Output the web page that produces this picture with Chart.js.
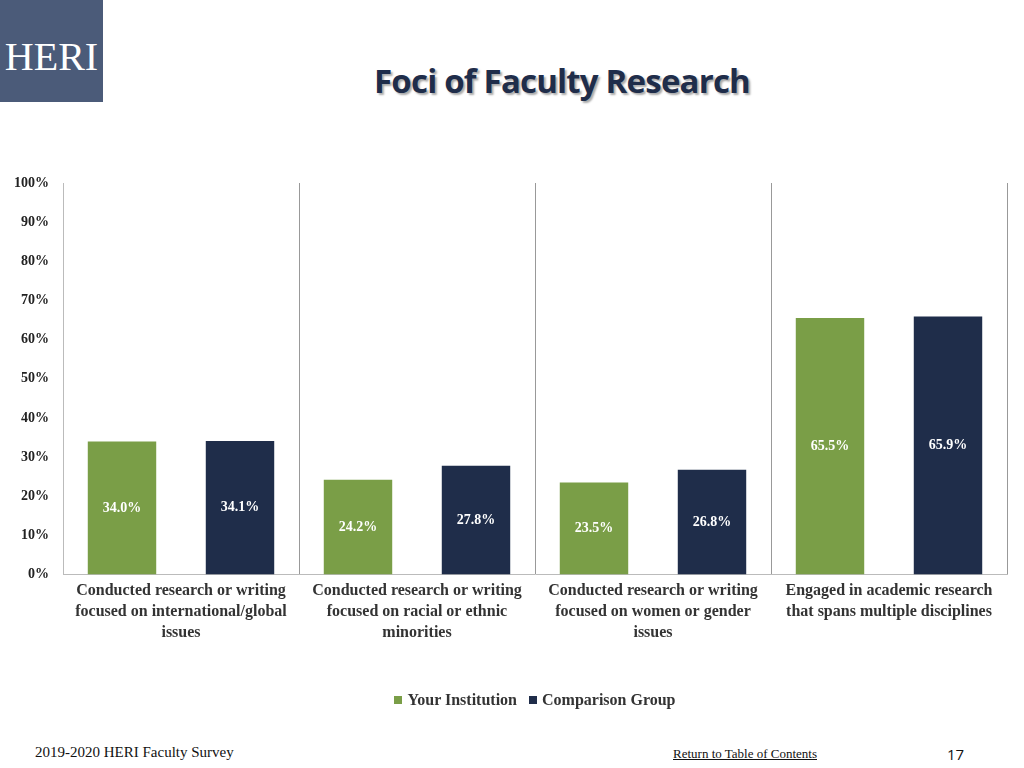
<!DOCTYPE html>
<html><head><meta charset="utf-8">
<script src="https://cdn.jsdelivr.net/npm/chart.js@4"></script>
<style>
body{margin:0;width:1024px;height:768px;position:relative;background:#fff;overflow:hidden}
#logo{position:absolute;left:0;top:0;width:103px;height:102px;background:#4B5B79;color:#fff;font-family:"Liberation Serif",serif;font-size:40px;line-height:114px;text-align:center}
#title{position:absolute;left:0;width:1124px;top:58px;text-align:center;font-family:"Open Sans",sans-serif;font-weight:bold;font-size:33px;color:#1F2D4A;text-shadow:2px 2px 2px #aaa;letter-spacing:-0.8px}
.foot{position:absolute;top:744px;font-family:"Liberation Serif",serif;color:#111}
#c{position:absolute;left:0;top:150px}
#leg{position:absolute;top:691px;left:0;width:1070px;text-align:center;font-family:"Liberation Serif",serif;font-weight:bold;font-size:16px;color:#333}
#leg i{display:inline-block;width:8px;height:8px;margin:0 5px 1px 0}
</style></head><body>
<div id="logo">HERI</div>
<div id="title">Foci of Faculty Research</div>
<canvas id="c" width="1024" height="575"></canvas>
<div id="leg"></div>
<div class="foot" style="left:35px;font-size:15px">2019-2020 HERI Faculty Survey</div>
<div class="foot" style="left:673px;top:746px;font-size:13px;text-decoration:underline">Return to Table of Contents</div>
<div class="foot" style="left:947px;font-size:15px;font-family:'Open Sans',sans-serif">17</div>
<script>
const categories=[["Conducted research or writing","focused on international/global","issues"],["Conducted research or writing","focused on racial or ethnic","minorities"],["Conducted research or writing","focused on women or gender","issues"],["Engaged in academic research","that spans multiple disciplines"]];
const yourInstitution=[34.0,24.2,23.5,65.5];
const comparisonGroup=[34.1,27.8,26.8,65.9];
const seriesNames=["Your Institution","Comparison Group"];
const colors=['#7A9E47','#1F2D4A'];
const F="'Liberation Serif',serif";
document.getElementById('leg').innerHTML=seriesNames.map((n,i)=>'<i style="background:'+colors[i]+'"></i>'+n).join('&nbsp;&nbsp;&nbsp;');
const labelPlugin={id:'lbl',afterDatasetsDraw(ch){const x=ch.ctx;x.save();x.font="bold 14px "+F;x.fillStyle="#fff";x.textAlign="center";x.textBaseline="middle";
ch.data.datasets.forEach((d,i)=>{ch.getDatasetMeta(i).data.forEach((b,j)=>{x.fillText(d.data[j].toFixed(1)+"%",b.x,(b.y+b.base)/2);});});x.restore();}};
new Chart(document.getElementById('c'),{type:'bar',
data:{labels:categories,datasets:[
{label:seriesNames[0],data:yourInstitution,backgroundColor:colors[0],barPercentage:0.58,categoryPercentage:1},
{label:seriesNames[1],data:comparisonGroup,backgroundColor:colors[1],barPercentage:0.58,categoryPercentage:1}]},
options:{responsive:false,animation:false,layout:{padding:{left:0,right:17,top:33,bottom:76}},
plugins:{tooltip:{enabled:false},legend:{display:false}},
scales:{y:{min:0,max:100,ticks:{stepSize:10,callback:v=>v+'%',font:{family:F,weight:'bold',size:14},color:'#222',padding:14},grid:{display:false,drawTicks:false},border:{display:true,color:'#bbb'}},
x:{ticks:{font:{family:F,weight:'bold',size:16,lineHeight:1.3},color:'#333',padding:6,maxRotation:0,autoSkip:false},grid:{display:true,offset:true,color:'#999',drawTicks:false},border:{display:true,color:'#bbb'}}}},
plugins:[labelPlugin]});
</script></body></html>
